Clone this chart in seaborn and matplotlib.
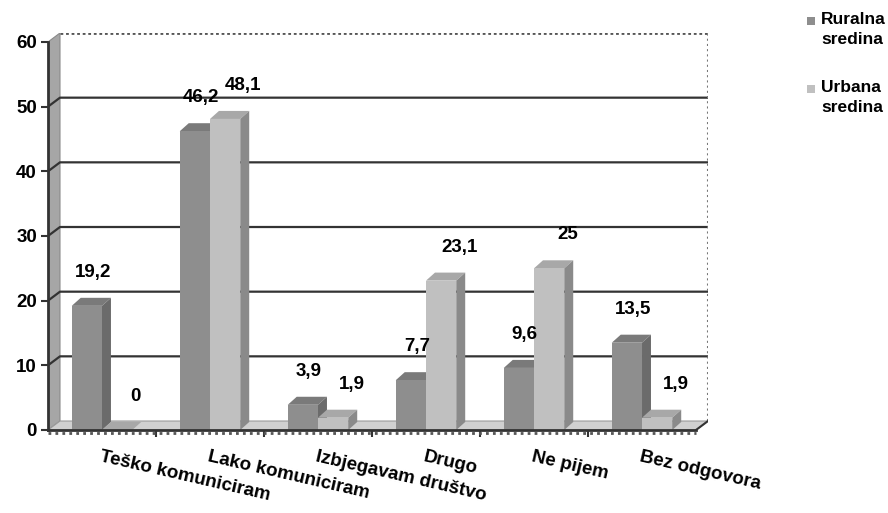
import numpy as np
import pandas as pd
import matplotlib.pyplot as plt
from matplotlib.patches import Polygon, Rectangle
import seaborn as sns

categories = ['Teško komuniciram', 'Lako komuniciram', 'Izbjegavam društvo',
              'Drugo', 'Ne pijem', 'Bez odgovora']
ruralna = [19.2, 46.2, 3.9, 7.7, 9.6, 13.5]
urbana = [0, 48.1, 1.9, 23.1, 25, 1.9]
series = ['Ruralna\nsredina', 'Urbana\nsredina']
yticks = [0, 10, 20, 30, 40, 50, 60]

FRONT = ['#8e8e8e', '#c0c0c0']
SIDE = ['#6b6b6b', '#8a8a8a']
TOP = ['#7a7a7a', '#a8a8a8']
DARK = '#333333'

df = pd.DataFrame({
    'kategorija': categories * 2,
    'sredina': [series[0]] * len(categories) + [series[1]] * len(categories),
    'vrijednost': ruralna + urbana,
})

sns.set_style('white')
plt.rcParams['font.family'] = ['Liberation Sans', 'DejaVu Sans']
plt.rcParams['font.weight'] = 'bold'
plt.rcParams['text.color'] = 'black'
plt.rcParams['xtick.color'] = 'black'
plt.rcParams['ytick.color'] = 'black'

fig = plt.figure(figsize=(8.88, 5.13), dpi=100)
ax = fig.add_axes([48 / 888, 83 / 513, 660 / 888, 397 / 513])

# fake 3d depth (data units)
WX, WY = 0.111, 1.39   # back wall offset
BX, BY = 0.083, 1.24   # bar depth

sns.barplot(data=df, x='kategorija', y='vrijednost', hue='sredina', order=categories,
            palette=FRONT, width=0.56, saturation=1, errorbar=None, legend=False,
            linewidth=0, ax=ax)

x0, x1 = -0.5, len(categories) - 0.5
ymax = yticks[-1]
ax.set_xlim(x0, x1 + WX)
ax.set_ylim(0, ymax + WY)

# bars -> extruded boxes
for s, cont in enumerate(ax.containers):
    vals = [ruralna, urbana][s]
    for bar, v in zip(cont, vals):
        x, w, h = bar.get_x(), bar.get_width(), bar.get_height()
        z = 2 + x * 0.01
        bar.set_zorder(z + 0.0005)
        ax.add_patch(Polygon([(x, h), (x + w, h), (x + w + BX, h + BY), (x + BX, h + BY)],
                             closed=True, fc=TOP[s], ec='none', zorder=z))
        ax.add_patch(Polygon([(x + w, 0), (x + w + BX, BY), (x + w + BX, h + BY), (x + w, h)],
                             closed=True, fc=SIDE[s], ec='none', zorder=z))
        xoff = [0.055, 0.17][s]
        ax.text(x + w / 2 + xoff, h + 4.5, f'{v:g}'.replace('.', ','),
                ha='center', va='baseline', fontsize=13.5, fontweight='bold', zorder=10)

# back wall, side wall, floor
ax.add_patch(Rectangle((x0 + WX, WY), x1 - x0, ymax, fc='white', ec='none', zorder=0.5))
ax.add_patch(Polygon([(x0, 0), (x0, ymax), (x0 + WX, ymax + WY), (x0 + WX, WY)],
                     closed=True, fc='#a6a6a6', ec='#8a8a8a', lw=0.8, zorder=0.6))
ax.add_patch(Polygon([(x0, 0), (x1, 0), (x1 + WX, WY), (x0 + WX, WY)],
                     closed=True, fc='#d0d0d0', ec='#9a9a9a', lw=0.8, zorder=0.9))
for t in yticks[1:-1]:
    ax.plot([x0, x0 + WX, x1 + WX], [t, t + WY, t + WY], color=DARK, lw=1.6, zorder=0.8)
ax.plot([x0 + WX, x1 + WX], [ymax + WY] * 2, color='#555555', lw=2, ls=(0, (1, 1)), zorder=0.8)
ax.plot([x1 + WX] * 2, [WY, ymax + WY], color='#777777', lw=1.5, ls=(0, (1, 1.5)), zorder=0.8)
ax.plot([x1, x1 + WX], [0, WY], color=DARK, lw=1.5, zorder=3)
ax.plot([x0, x1], [-0.5] * 2, color='#555555', lw=2, ls=(0, (1, 1.5)), clip_on=False, zorder=3)

# axes
for side in ['top', 'right']:
    ax.spines[side].set_visible(False)
for side in ['left', 'bottom']:
    ax.spines[side].set_color(DARK)
    ax.spines[side].set_linewidth(2)
    ax.spines[side].set_zorder(3)
ax.spines['left'].set_bounds(0, ymax)
ax.spines['bottom'].set_bounds(x0, x1)

ax.set_yticks(yticks)
ax.tick_params(axis='y', direction='out', length=5, width=1.5, color=DARK,
               labelsize=13.5, pad=3, left=True)
ax.set_xticks(range(len(categories)))
ax.set_xticklabels(categories)
ax.set_xticks(np.arange(0.5, len(categories) - 1, 1), minor=True)
ax.tick_params(axis='x', which='major', length=0, pad=13, labelsize=13.5)
ax.tick_params(axis='x', which='minor', direction='out', length=5, width=1.5, color=DARK,
               bottom=True)
plt.setp(ax.get_xticklabels(), rotation=-13, ha='left', va='top', rotation_mode='anchor')
ax.set_xlabel('')
ax.set_ylabel('')
ax.grid(False)

# legend (square at the first line of each two-line label)
for i, lab in enumerate(series):
    ytop = 1 - (17 + 68 * i) / 513
    fig.patches.append(Rectangle((807 / 888, ytop - 8 / 513), 8 / 888, 8 / 513,
                                 transform=fig.transFigure, fc=FRONT[i], ec='none'))
    fig.text(821 / 888, ytop + 5 / 513, lab, ha='left', va='top', fontsize=12.5,
             fontweight='bold', linespacing=1.45)

fig.savefig('out.png', dpi=100)
